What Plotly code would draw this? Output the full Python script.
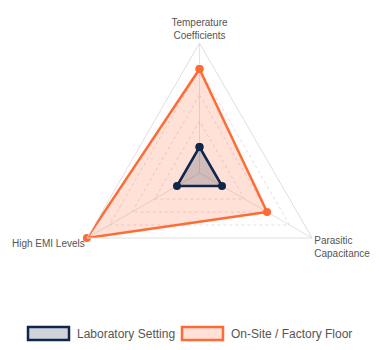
import plotly.graph_objects as go

categories = ["Temperature<br>Coefficients", "High EMI Levels", "Parasitic<br>Capacitance"]
lab_values = [2, 2, 2]
site_values = [8, 10, 6]
series_names = ["Laboratory Setting", "On-Site / Factory Floor"]

styles = [
    dict(line="#10264a", fill="rgba(16,38,74,0.2)"),
    dict(line="#ff6b35", fill="rgba(255,107,53,0.2)"),
]

fig = go.Figure()
for name, vals, st in [(series_names[1], site_values, styles[1]),
                       (series_names[0], lab_values, styles[0])]:
    fig.add_trace(go.Scatterpolar(
        r=vals + vals[:1], theta=categories + categories[:1],
        name=name, mode="lines+markers", fill="toself",
        line=dict(color=st["line"], width=2.5), fillcolor=st["fill"],
        marker=dict(size=8, color=st["line"]),
    ))

# manual legend (wide boxes like the reference)
L, T, W, H = 40, 43, 319, 260
def px(x):
    return (x - L) / W
def py(y):
    return (T + H - y) / H

legend_items = [(series_names[0], styles[0], 28, 69, 75),
                (series_names[1], styles[1], 182, 223, 229)]
for name, st, bx0, bx1, tx in legend_items:
    fig.add_shape(type="rect", xref="paper", yref="paper",
                  x0=px(bx0), x1=px(bx1), y0=py(340), y1=py(327),
                  fillcolor=st["fill"], line=dict(color=st["line"], width=2.5))
    fig.add_annotation(text=name, xref="paper", yref="paper", x=px(tx), y=py(333.5),
                       xanchor="left", yanchor="middle", showarrow=False,
                       font=dict(size=12, color="#555555"))

fig.update_layout(
    width=379, height=350,
    margin=dict(l=L, r=379 - L - W, t=T, b=350 - T - H),
    paper_bgcolor="white", plot_bgcolor="white",
    showlegend=False,
    font=dict(family="Liberation Sans, Arial, sans-serif", color="#555555"),
    polar=dict(
        bgcolor="white",
        gridshape="linear",
        radialaxis=dict(range=[0, 10], dtick=2, showticklabels=False, ticks="",
                        showline=False, gridcolor="#e0e0e0", griddash="dot"),
        angularaxis=dict(rotation=90, direction="counterclockwise",
                         categoryorder="array", categoryarray=categories,
                         gridcolor="#e3e3e3", linecolor="#e0e0e0", showline=True,
                         ticks="", tickfont=dict(size=10, color="#555555")),
    ),
)

fig.write_html("out.html")
